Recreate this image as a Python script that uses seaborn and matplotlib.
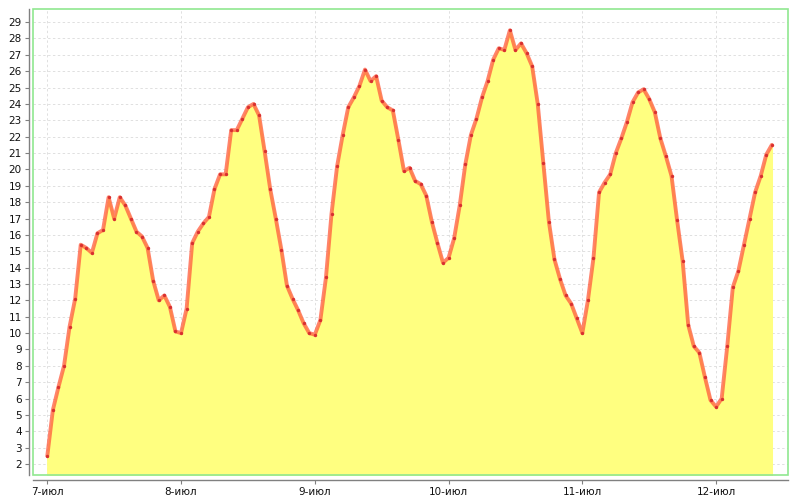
import numpy as np
import pandas as pd
import matplotlib
matplotlib.use("Agg")
import matplotlib.pyplot as plt
import seaborn as sns
from matplotlib.patches import Rectangle

# hourly temperature readings, starting 7-июл 00:00
temps = [
    2.5, 5.3, 6.7, 8.0, 10.4, 12.1, 15.4, 15.2, 14.9, 16.1, 16.3, 18.3,
    17.0, 18.3, 17.8, 17.0, 16.2, 15.9, 15.2, 13.2, 12.0, 12.3, 11.6, 10.1,
    10.0, 11.5, 15.5, 16.2, 16.7, 17.1, 18.8, 19.7, 19.7, 22.4, 22.4, 23.1,
    23.8, 24.0, 23.3, 21.1, 18.8, 17.0, 15.1, 12.9, 12.1, 11.4, 10.6, 10.0,
    9.9, 10.8, 13.4, 17.3, 20.2, 22.1, 23.8, 24.4, 25.1, 26.1, 25.4, 25.7,
    24.2, 23.8, 23.6, 21.8, 19.9, 20.1, 19.3, 19.1, 18.4, 16.8, 15.5, 14.3,
    14.6, 15.8, 17.8, 20.3, 22.1, 23.1, 24.4, 25.4, 26.7, 27.4, 27.3, 28.5,
    27.3, 27.7, 27.1, 26.3, 24.0, 20.4, 16.8, 14.5, 13.3, 12.3, 11.8, 10.9,
    10.0, 12.0, 14.6, 18.6, 19.2, 19.7, 21.0, 21.9, 22.9, 24.1, 24.7, 24.9,
    24.3, 23.5, 21.9, 20.8, 19.6, 16.9, 14.4, 10.5, 9.2, 8.8, 7.3, 5.9,
    5.5, 6.0, 9.2, 12.8, 13.8, 15.4, 17.0, 18.6, 19.6, 20.9, 21.5,
]
day_labels = ["7-июл", "8-июл", "9-июл", "10-июл", "11-июл", "12-июл"]
y_ticks = list(range(2, 30))

df = pd.DataFrame({"hour": np.arange(len(temps)), "temp": temps})

sns.set_style("white")
plt.rcParams["font.family"] = ["DejaVu Sans"]

fig = plt.figure(figsize=(8, 5), dpi=100)
ax = fig.add_axes([0.041, 0.05, 0.944, 0.932])

y_lo, y_hi = 1.33, 29.8
ax.fill_between(df["hour"], df["temp"], y_lo, color="#ffff80", zorder=2)
sns.lineplot(data=df, x="hour", y="temp", ax=ax, color="#ff5a3c", alpha=0.75,
             linewidth=2.8, zorder=3)
sns.scatterplot(data=df, x="hour", y="temp", ax=ax, color="#d83030", s=6,
                linewidth=0, zorder=4)

ax.set_xlim(-2.6, 132.9)
ax.set_ylim(y_lo, y_hi)
ax.set_xticks(np.arange(len(day_labels)) * 24)
ax.set_xticklabels(day_labels)
ax.set_yticks(y_ticks)
ax.set_xlabel("")
ax.set_ylabel("")

ax.grid(True, color="#e0e0e0", linestyle=(0, (2.5, 2.5)), linewidth=0.7,
        zorder=1)
ax.set_axisbelow(True)

# green plot frame, axis lines pushed slightly outward
ax.add_patch(Rectangle((0, 0), 1, 1, transform=ax.transAxes, fill=False,
                       edgecolor="#90e890", linewidth=1.2, zorder=5,
                       clip_on=False))
for side in ["top", "right"]:
    ax.spines[side].set_visible(False)
ax.spines["left"].set_position(("outward", 3))
ax.spines["bottom"].set_position(("outward", 3.5))
for side in ["left", "bottom"]:
    ax.spines[side].set_color("#808080")
    ax.spines[side].set_linewidth(1)

ax.tick_params(axis="both", direction="out", length=3, width=0.8,
               color="#808080", labelsize=7.5, labelcolor="#111111",
               left=True, bottom=True, pad=2)

fig.savefig("out.png", dpi=100)
